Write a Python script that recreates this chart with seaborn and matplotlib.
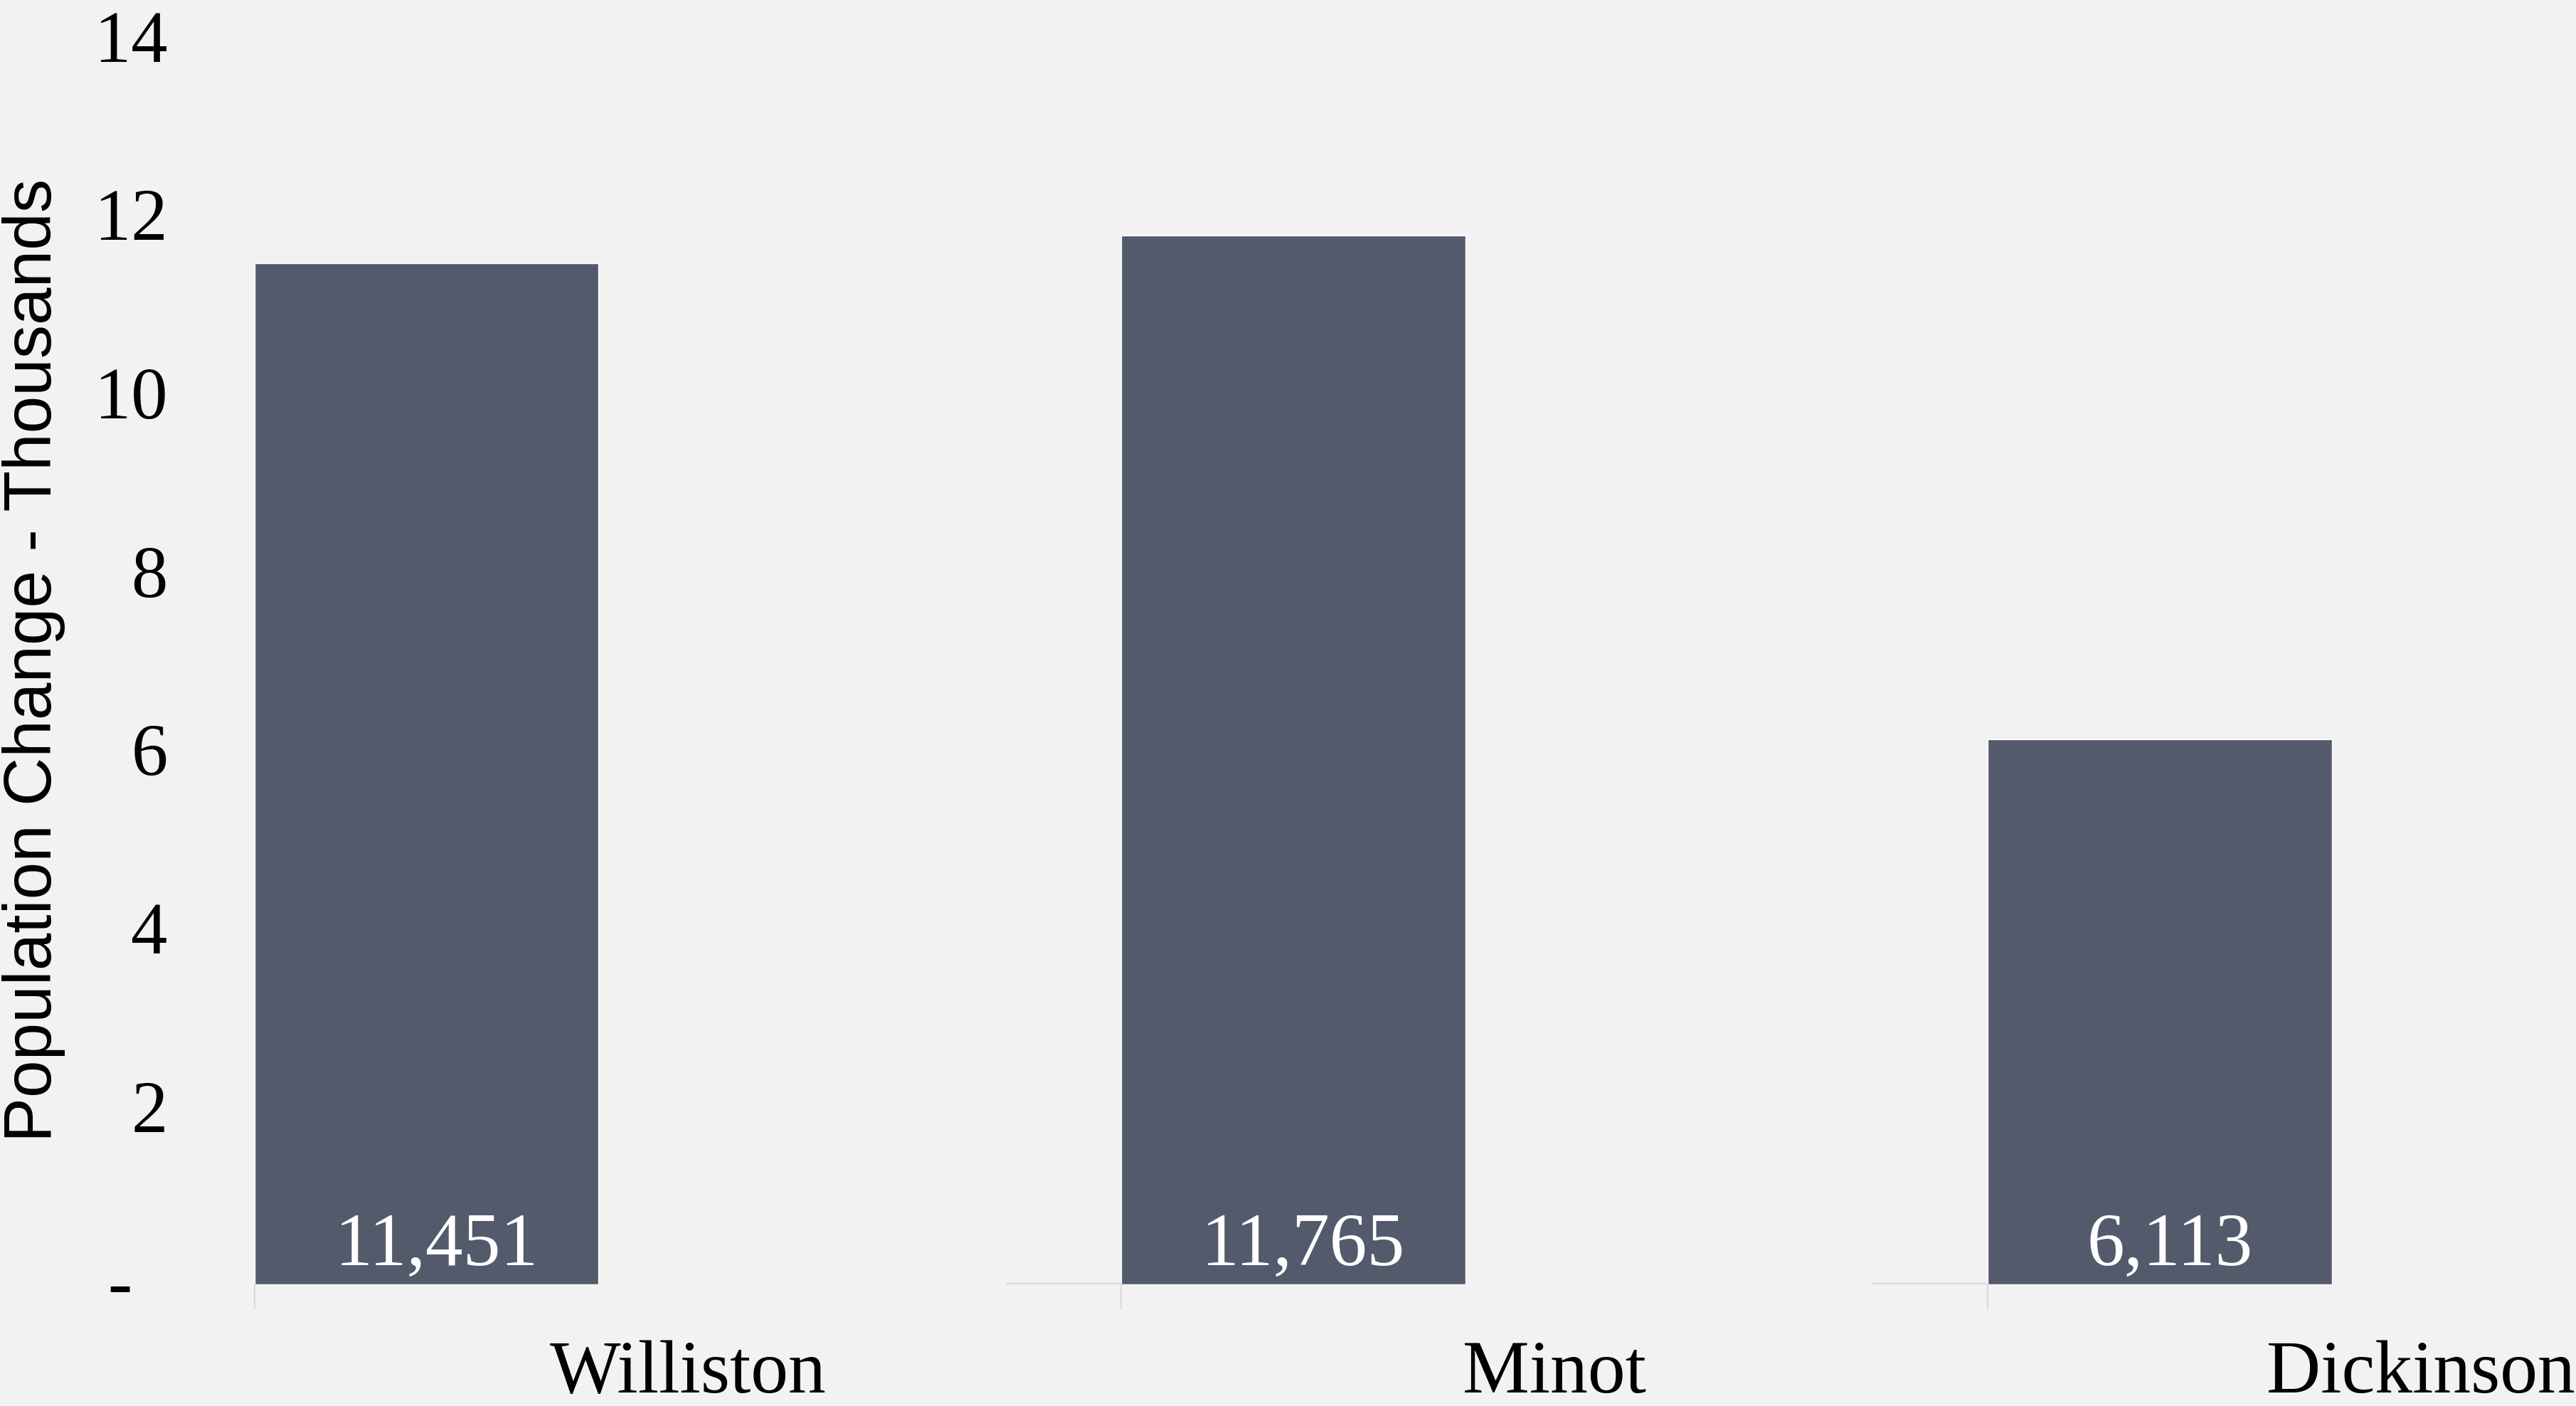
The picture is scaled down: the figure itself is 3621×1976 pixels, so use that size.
import matplotlib
matplotlib.use("Agg")
import matplotlib.pyplot as plt
import seaborn as sns
import pandas as pd
import numpy as np
from matplotlib.ticker import FixedLocator

# ---- data ----
cities = ["Williston", "Minot", "Dickinson"]
pop_change = [11451, 11765, 6113]
y_ticks = [0, 2, 4, 6, 8, 10, 12, 14]
y_tick_labels = ["", "2", "4", "6", "8", "10", "12", "14"]
zero_label = "-"
y_label = "Population Change - Thousands"

BG = "#f2f2f2"
BAR = "#525a6c"
GRID = "#d9d9d9"
SERIF = ["Liberation Serif", "DejaVu Serif"]
SANS = ["Liberation Sans", "DejaVu Sans"]

sns.set_theme(style="white")
plt.rcParams["font.family"] = SERIF

df = pd.DataFrame({"city": cities, "k": [v / 1000 for v in pop_change]})

fig = plt.figure(figsize=(36.21, 19.76), dpi=100, facecolor=BG)
ax = fig.add_axes([0.0988, 0.0864, 1.0093, 0.8879])
ax.set_facecolor(BG)

w = 0.397
sns.barplot(data=df, x="city", y="k", color=BAR, saturation=1, width=w, ax=ax, zorder=3)

n = len(cities)
ax.set_xlim(-w / 2, n - w / 2)
ax.set_ylim(0, 14)

# baseline segments
for i in range(n):
    ax.plot([i - w / 2 - 0.133, i + w / 2], [0, 0], color=GRID, lw=3, zorder=2,
            solid_capstyle="butt", clip_on=True)

# x ticks: marks at band edges, labels at band centres
left_edges = [i - w / 2 for i in range(n)]
centers = [i - w / 2 + 0.5 for i in range(n)]
ax.xaxis.set_major_locator(FixedLocator(left_edges))
ax.set_xticklabels([""] * n)
ax.xaxis.set_minor_locator(FixedLocator(centers))
ax.set_xticklabels(cities, minor=True)
ax.tick_params(axis="x", which="major", length=25, width=1.5, color=GRID, bottom=True)
ax.tick_params(axis="x", which="minor", length=0, pad=56, labelsize=76, labelcolor="black")

ax.set_yticks(y_ticks)
ax.set_yticklabels(y_tick_labels)
ax.tick_params(axis="y", length=0, pad=88, labelsize=74, labelcolor="black")
# zero label ("-") placed like the accounting-format dash
ax.annotate(zero_label, xy=(0, 0), xycoords=("axes fraction", "data"),
            xytext=(-124, -5), textcoords="offset points",
            ha="right", va="center", fontsize=74, color="black")

ax.set_xlabel("")
ax.set_ylabel(y_label, family=SANS, fontsize=68, color="black")
ax.yaxis.set_label_coords(-0.0727, 0.5)

for s in ax.spines.values():
    s.set_visible(False)

# value labels inside the bars
for i, v in enumerate(pop_change):
    ax.annotate(f"{v:,}", xy=(i, 0.22), xycoords="data", xytext=(10, 0),
                textcoords="offset points", ha="center", va="baseline",
                color="white", fontsize=76, zorder=4)

fig.savefig("out.png", dpi=100, facecolor=BG)
